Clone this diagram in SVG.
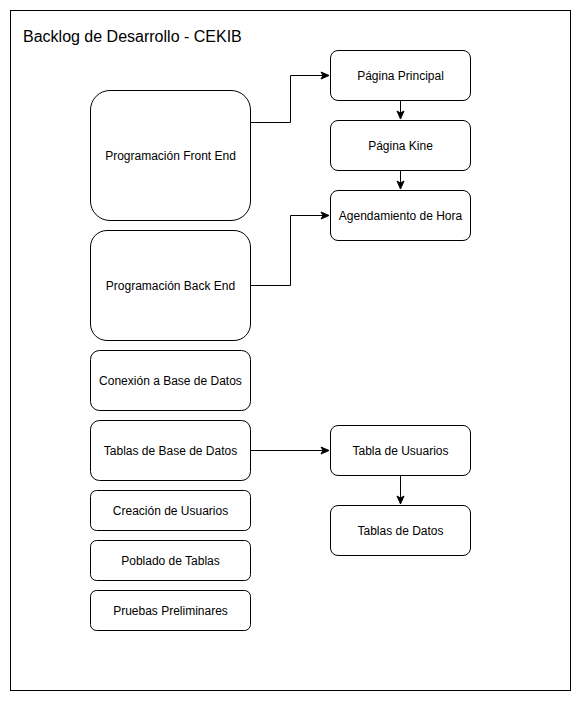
<svg xmlns="http://www.w3.org/2000/svg" width="581" height="701" viewBox="0 0 581 701">
<style>
.n{fill:#fff;stroke:#000;stroke-width:1}
.t{font-family:"Liberation Sans",Arial,sans-serif;font-size:12px;fill:#000;text-anchor:middle;dominant-baseline:central}
.c{fill:none;stroke:#000;stroke-width:1}
</style>
<defs>
<marker id="a" markerWidth="10" markerHeight="10" refX="9" refY="5" orient="auto" markerUnits="userSpaceOnUse">
<path d="M1,1.5 L9,5 L1,8.5 L3,5 Z" fill="#000" stroke="#000" stroke-width="1"/>
</marker>
</defs>
<rect width="581" height="701" fill="#fff"/>
<g id="frame">
<rect x="10.5" y="10.5" width="560" height="680" fill="#fff" stroke="#000"/>
<text x="23" y="36" style="font-family:'Liberation Sans',Arial,sans-serif;font-size:16px;fill:#000;dominant-baseline:central">Backlog de Desarrollo - CEKIB</text>
</g>
<g id="connectors">
<path class="c" d="M250.5,122.5 H290.5 V75.5 H329" marker-end="url(#a)"/>
<path class="c" d="M250.5,285.5 H290.5 V215.5 H329" marker-end="url(#a)"/>
<path class="c" d="M400.5,100.5 V119" marker-end="url(#a)"/>
<path class="c" d="M400.5,170.5 V189" marker-end="url(#a)"/>
<path class="c" d="M250.5,450.5 H329" marker-end="url(#a)"/>
<path class="c" d="M400.5,475.5 V504" marker-end="url(#a)"/>
</g>
<g id="front"><rect class="n" x="90.5" y="90.5" width="160" height="130" rx="19.5"/><text class="t" x="170.5" y="155.5">Programación Front End</text></g>
<g id="back"><rect class="n" x="90.5" y="230.5" width="160" height="110" rx="16.5"/><text class="t" x="170.5" y="285.5">Programación Back End</text></g>
<g id="conexion"><rect class="n" x="90.5" y="350.5" width="160" height="60" rx="9"/><text class="t" x="170.5" y="380.5">Conexión a Base de Datos</text></g>
<g id="tablasbase"><rect class="n" x="90.5" y="420.5" width="160" height="60" rx="9"/><text class="t" x="170.5" y="450.5">Tablas de Base de Datos</text></g>
<g id="creacion"><rect class="n" x="90.5" y="490.5" width="160" height="40" rx="6"/><text class="t" x="170.5" y="510.5">Creación de Usuarios</text></g>
<g id="poblado"><rect class="n" x="90.5" y="540.5" width="160" height="40" rx="6"/><text class="t" x="170.5" y="560.5">Poblado de Tablas</text></g>
<g id="pruebas"><rect class="n" x="90.5" y="590.5" width="160" height="40" rx="6"/><text class="t" x="170.5" y="610.5">Pruebas Preliminares</text></g>
<g id="principal"><rect class="n" x="330.5" y="50.5" width="140" height="50" rx="7.5"/><text class="t" x="400.5" y="75.5">Página Principal</text></g>
<g id="kine"><rect class="n" x="330.5" y="120.5" width="140" height="50" rx="7.5"/><text class="t" x="400.5" y="145.5">Página Kine</text></g>
<g id="agendamiento"><rect class="n" x="330.5" y="190.5" width="140" height="50" rx="7.5"/><text class="t" x="400.5" y="215.5">Agendamiento de Hora</text></g>
<g id="usuarios"><rect class="n" x="330.5" y="425.5" width="140" height="50" rx="7.5"/><text class="t" x="400.5" y="450.5">Tabla de Usuarios</text></g>
<g id="datos"><rect class="n" x="330.5" y="505.5" width="140" height="50" rx="7.5"/><text class="t" x="400.5" y="530.5">Tablas de Datos</text></g>
</svg>
